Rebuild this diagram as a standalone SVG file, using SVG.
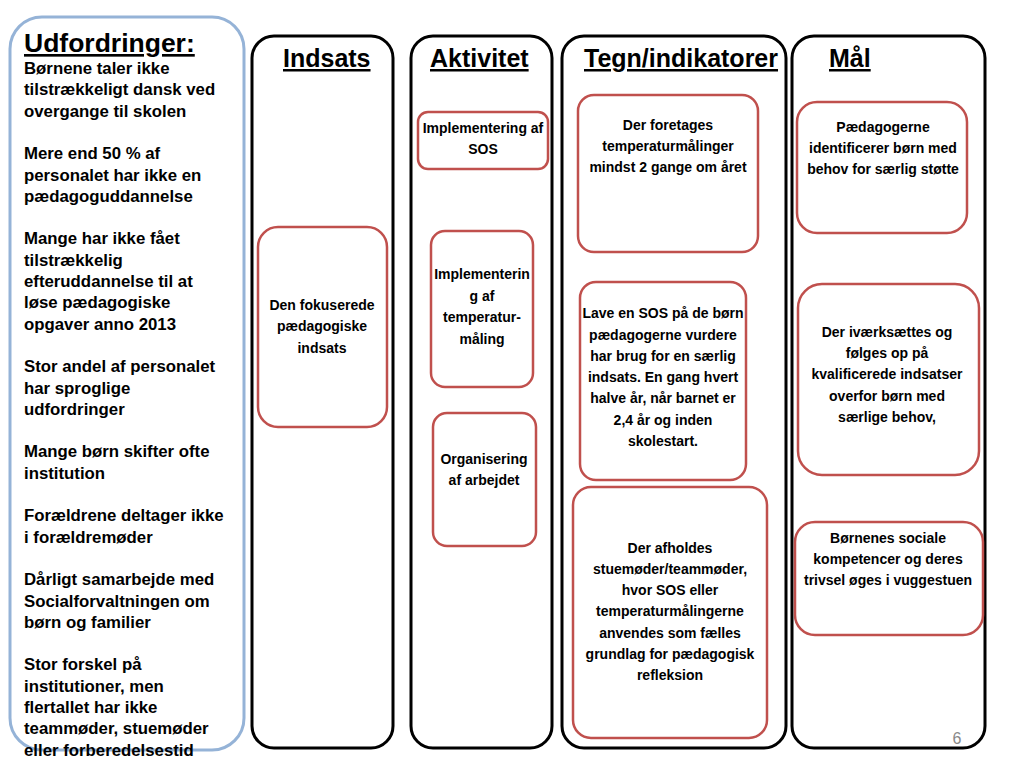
<svg xmlns="http://www.w3.org/2000/svg" width="1024" height="768" viewBox="0 0 1024 768">
<style>
.col{fill:#fff;stroke:#000;stroke-width:3}
.box{fill:#fff;stroke:#c0504d;stroke-width:2.5}
.hdr{font-family:"Liberation Sans",Arial,sans-serif;font-weight:bold;font-size:25px;text-decoration:underline;fill:#000}
.t{font-family:"Liberation Sans",Arial,sans-serif;font-weight:bold;font-size:14px;text-anchor:middle;fill:#000}
.lt{font-family:"Liberation Sans",Arial,sans-serif;font-weight:bold;font-size:16.8px;fill:#000}
</style>
<rect width="1024" height="768" fill="#fff"/>
<g id="udfordringer">
<rect x="10" y="17" width="234" height="733" rx="32" ry="32" fill="#fff" stroke="#95b3d7" stroke-width="3"/>
<text x="24" y="52" font-family="Liberation Sans, Arial, sans-serif" font-weight="bold" font-size="26.5" text-decoration="underline">Udfordringer:</text>
<text class="lt" x="24">
<tspan x="24" y="74">Børnene taler ikke</tspan>
<tspan x="24" y="95.3">tilstrækkeligt dansk ved</tspan>
<tspan x="24" y="116.6">overgange til skolen</tspan>
<tspan x="24" y="159.2">Mere end 50 % af</tspan>
<tspan x="24" y="180.5">personalet har ikke en</tspan>
<tspan x="24" y="201.8">pædagoguddannelse</tspan>
<tspan x="24" y="244.4">Mange har ikke fået</tspan>
<tspan x="24" y="265.7">tilstrækkelig</tspan>
<tspan x="24" y="287">efteruddannelse til at</tspan>
<tspan x="24" y="308.3">løse pædagogiske</tspan>
<tspan x="24" y="329.6">opgaver anno 2013</tspan>
<tspan x="24" y="372.2">Stor andel af personalet</tspan>
<tspan x="24" y="393.5">har sproglige</tspan>
<tspan x="24" y="414.8">udfordringer</tspan>
<tspan x="24" y="457.4">Mange børn skifter ofte</tspan>
<tspan x="24" y="478.7">institution</tspan>
<tspan x="24" y="521.3">Forældrene deltager ikke</tspan>
<tspan x="24" y="542.6">i forældremøder</tspan>
<tspan x="24" y="585.2">Dårligt samarbejde med</tspan>
<tspan x="24" y="606.5">Socialforvaltningen om</tspan>
<tspan x="24" y="627.8">børn og familier</tspan>
<tspan x="24" y="670.4">Stor forskel på</tspan>
<tspan x="24" y="691.7">institutioner, men</tspan>
<tspan x="24" y="713">flertallet har ikke</tspan>
<tspan x="24" y="734.3">teammøder, stuemøder</tspan>
<tspan x="24" y="755.6">eller forberedelsestid</tspan>
<tspan x="24" y="776.9">m.v.</tspan>
</text>
</g>
<g id="col-indsats">
<rect class="col" x="252" y="36" width="141" height="712" rx="22"/>
<text class="hdr" x="283" y="67">Indsats</text>
</g>
<g id="col-aktivitet">
<rect class="col" x="411" y="36" width="141" height="712" rx="22"/>
<text class="hdr" x="430" y="67">Aktivitet</text>
</g>
<g id="col-tegn">
<rect class="col" x="562" y="36" width="224" height="712" rx="22"/>
<text class="hdr" x="584" y="67">Tegn/indikatorer</text>
</g>
<g id="col-maal">
<rect class="col" x="792" y="36" width="193" height="712" rx="22"/>
<text class="hdr" x="829" y="67">Mål</text>
<text x="957" y="744" font-family="Liberation Sans, Arial, sans-serif" font-size="16" fill="#888" text-anchor="middle">6</text>
</g>
<g id="connectors"></g>
<g id="n-indsats">
<rect class="box" x="258" y="227" width="129" height="200" rx="20"/>
<text class="t"><tspan x="322" y="310">Den fokuserede</tspan><tspan x="322" y="331">pædagogiske</tspan><tspan x="322" y="353">indsats</tspan></text>
</g>
<g id="n-akt1">
<rect class="box" x="418" y="112" width="130" height="57" rx="10"/>
<text class="t"><tspan x="483" y="133">Implementering af</tspan><tspan x="483" y="154">SOS</tspan></text>
</g>
<g id="n-akt2">
<rect class="box" x="431" y="231" width="102" height="156" rx="14"/>
<text class="t"><tspan x="482" y="279">Implementerin</tspan><tspan x="482" y="301">g af</tspan><tspan x="482" y="322">temperatur-</tspan><tspan x="482" y="344">måling</tspan></text>
</g>
<g id="n-akt3">
<rect class="box" x="433" y="413" width="103" height="133" rx="14"/>
<text class="t"><tspan x="484" y="464">Organisering</tspan><tspan x="484" y="485">af arbejdet</tspan></text>
</g>
<g id="n-tegn1">
<rect class="box" x="578" y="95" width="180" height="157" rx="16"/>
<text class="t"><tspan x="668" y="130">Der foretages</tspan><tspan x="668" y="151">temperaturmålinger</tspan><tspan x="668" y="172">mindst 2 gange om året</tspan></text>
</g>
<g id="n-tegn2">
<rect class="box" x="580" y="282" width="166" height="198" rx="16"/>
<text class="t"><tspan x="663" y="318">Lave en SOS på de børn</tspan><tspan x="663" y="340">pædagogerne vurdere</tspan><tspan x="663" y="361">har brug for en særlig</tspan><tspan x="663" y="382">indsats. En gang hvert</tspan><tspan x="663" y="403">halve år, når barnet er</tspan><tspan x="663" y="425">2,4 år og inden</tspan><tspan x="663" y="446">skolestart.</tspan></text>
</g>
<g id="n-tegn3">
<rect class="box" x="573" y="487" width="194" height="251" rx="18"/>
<text class="t"><tspan x="670" y="553">Der afholdes</tspan><tspan x="670" y="574">stuemøder/teammøder,</tspan><tspan x="670" y="595">hvor SOS eller</tspan><tspan x="670" y="616">temperaturmålingerne</tspan><tspan x="670" y="638">anvendes som fælles</tspan><tspan x="670" y="659">grundlag for pædagogisk</tspan><tspan x="670" y="680">refleksion</tspan></text>
</g>
<g id="n-maal1">
<rect class="box" x="797" y="102" width="170" height="131" rx="20"/>
<text class="t"><tspan x="883" y="132">Pædagogerne</tspan><tspan x="883" y="153">identificerer børn med</tspan><tspan x="883" y="174">behov for særlig støtte</tspan></text>
</g>
<g id="n-maal2">
<rect class="box" x="798" y="284" width="181" height="191" rx="24"/>
<text class="t"><tspan x="887" y="337">Der iværksættes og</tspan><tspan x="887" y="358">følges op på</tspan><tspan x="887" y="379">kvalificerede indsatser</tspan><tspan x="887" y="401">overfor børn med</tspan><tspan x="887" y="422">særlige behov,</tspan></text>
</g>
<g id="n-maal3">
<rect class="box" x="795" y="522" width="188" height="113" rx="20"/>
<text class="t"><tspan x="888" y="543">Børnenes sociale</tspan><tspan x="888" y="564">kompetencer og deres</tspan><tspan x="888" y="585">trivsel øges i vuggestuen</tspan></text>
</g>
</svg>
